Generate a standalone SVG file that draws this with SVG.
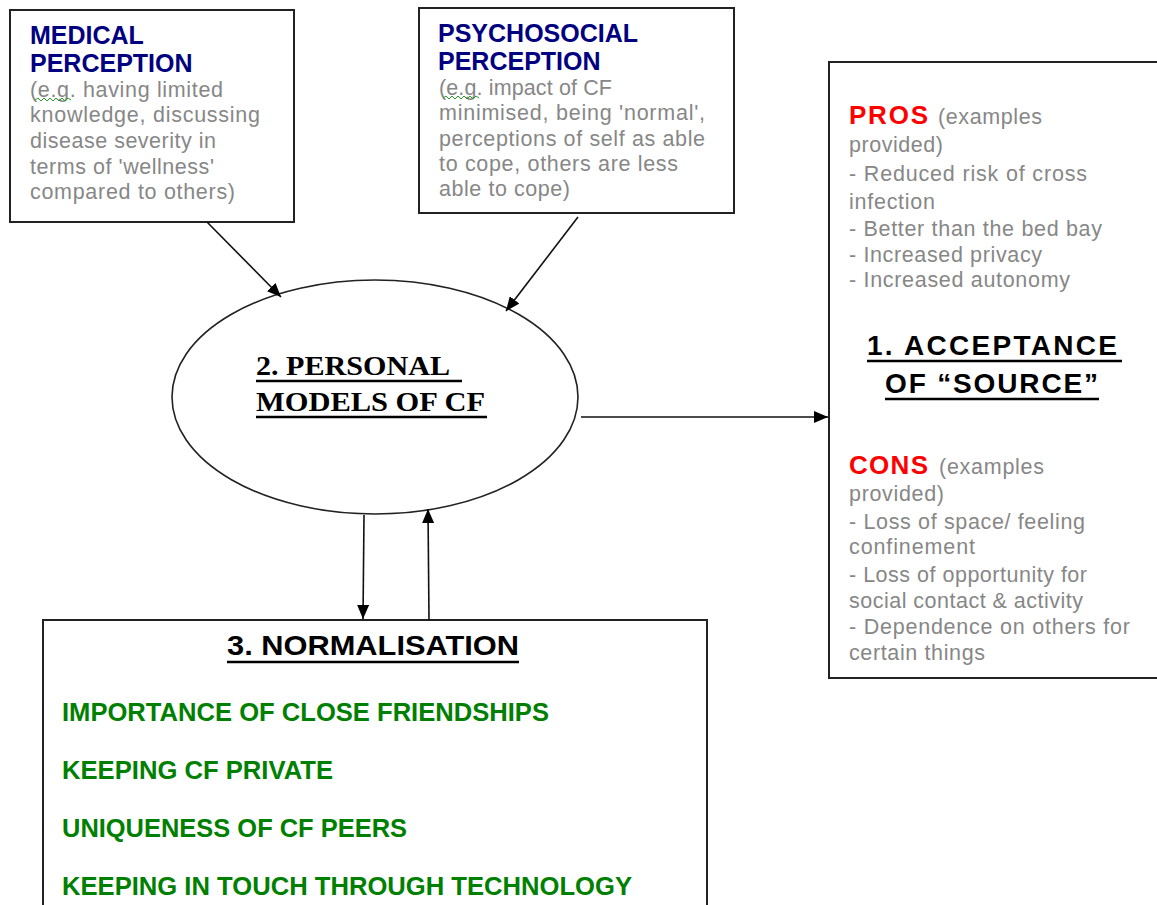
<svg xmlns="http://www.w3.org/2000/svg" width="1157" height="905" viewBox="0 0 1157 905">
<style>
.box{fill:#fff;stroke:#222;stroke-width:2}
.title{font-family:"Liberation Sans",Arial,sans-serif;font-weight:bold;font-size:25px;fill:#000080}
.gray{font-family:"Liberation Sans",Arial,sans-serif;font-size:21.5px;fill:#878787}
.red{font-family:"Liberation Sans",Arial,sans-serif;font-weight:bold;font-size:26px;fill:#ff0000}
.head{font-family:"Liberation Sans",Arial,sans-serif;font-weight:bold;font-size:28px;fill:#000}
.green{font-family:"Liberation Sans",Arial,sans-serif;font-weight:bold;font-size:26px;fill:#008000}
.serif{font-family:"Liberation Serif","Times New Roman",serif;font-weight:bold;font-size:28px;fill:#000}
.ul{stroke:#000;stroke-width:2.5}
.conn{stroke:#111;stroke-width:1.6;fill:none;marker-end:url(#ah)}
.squig{stroke:#2a9a2a;stroke-width:1;fill:none}
</style>
<defs>
<marker id="ah" markerUnits="userSpaceOnUse" markerWidth="14" markerHeight="12" refX="14" refY="6" orient="auto">
<path d="M0,0 L14,6 L0,12 z" fill="#000"/>
</marker>
</defs>
<rect width="1157" height="905" fill="#fff"/>

<g id="medical">
<rect class="box" x="10" y="10" width="284" height="212"/>
<text class="title" x="30" y="44">MEDICAL</text>
<text class="title" x="30" y="72">PERCEPTION</text>
<text class="gray" x="30" y="97" textLength="193">(e.g. having limited</text>
<text class="gray" x="30" y="122" textLength="230">knowledge, discussing</text>
<text class="gray" x="30" y="148" textLength="186">disease severity in</text>
<text class="gray" x="30" y="174" textLength="184">terms of 'wellness'</text>
<text class="gray" x="30" y="199" textLength="205">compared to others)</text>
<polyline class="squig" points="35,100 38,98 41,101 44,98 47,101 50,98 53,101 56,98 59,101 62,98 65,101 68,98 71,100"/>
</g>

<g id="psychosocial">
<rect class="box" x="419" y="8" width="315" height="205"/>
<text class="title" x="438" y="42">PSYCHOSOCIAL</text>
<text class="title" x="438" y="70">PERCEPTION</text>
<text class="gray" x="439" y="95" textLength="173">(e.g. impact of CF</text>
<text class="gray" x="439" y="120" textLength="266">minimised, being 'normal',</text>
<text class="gray" x="439" y="146" textLength="266">perceptions of self as able</text>
<text class="gray" x="439" y="171" textLength="239">to cope, others are less</text>
<text class="gray" x="439" y="196" textLength="131">able to cope)</text>
<polyline class="squig" points="443,98 446,96 449,99 452,96 455,99 458,96 461,99 464,96 467,99 470,96 473,99 476,96 479,98"/>
</g>

<g id="acceptance">
<rect class="box" x="829" y="62" width="330" height="616"/>
<text class="red" x="849" y="124" textLength="79">PROS</text>
<text class="gray" x="938" y="124" textLength="104">(examples</text>
<text class="gray" x="849" y="152" textLength="94">provided)</text>
<text class="gray" x="849" y="181" textLength="238">- Reduced risk of cross</text>
<text class="gray" x="849" y="209" textLength="86">infection</text>
<text class="gray" x="849" y="236" textLength="253">- Better than the bed bay</text>
<text class="gray" x="849" y="262" textLength="193">- Increased privacy</text>
<text class="gray" x="849" y="287" textLength="221">- Increased autonomy</text>
<text class="head" x="867" y="355" textLength="250">1. ACCEPTANCE</text>
<line class="ul" x1="867" y1="361" x2="1122" y2="361"/>
<text class="head" x="885" y="393" textLength="213">OF “SOURCE”</text>
<line class="ul" x1="885" y1="399" x2="1099" y2="399"/>
<text class="red" x="849" y="474" textLength="79">CONS</text>
<text class="gray" x="939" y="474" textLength="105">(examples</text>
<text class="gray" x="849" y="501" textLength="95">provided)</text>
<text class="gray" x="849" y="529" textLength="236">- Loss of space/ feeling</text>
<text class="gray" x="849" y="554" textLength="126">confinement</text>
<text class="gray" x="849" y="582" textLength="238">- Loss of opportunity for</text>
<text class="gray" x="849" y="608" textLength="234">social contact &amp; activity</text>
<text class="gray" x="849" y="634" textLength="281">- Dependence on others for</text>
<text class="gray" x="849" y="660" textLength="136">certain things</text>
</g>

<g id="personal-models">
<ellipse cx="375" cy="397" rx="203" ry="117" fill="#fff" stroke="#222" stroke-width="1.6"/>
<text class="serif" x="256" y="375" textLength="194" lengthAdjust="spacingAndGlyphs">2. PERSONAL</text>
<line class="ul" x1="256" y1="381" x2="462" y2="381"/>
<text class="serif" x="256" y="411" textLength="229" lengthAdjust="spacingAndGlyphs">MODELS OF CF</text>
<line class="ul" x1="256" y1="417" x2="487" y2="417"/>
</g>

<g id="normalisation">
<rect class="box" x="43" y="620" width="664" height="300"/>
<text class="head" x="227" y="655" textLength="292" lengthAdjust="spacingAndGlyphs">3. NORMALISATION</text>
<line class="ul" x1="227" y1="662" x2="519" y2="662"/>
<text class="green" x="62" y="721" textLength="487" lengthAdjust="spacingAndGlyphs">IMPORTANCE OF CLOSE FRIENDSHIPS</text>
<text class="green" x="62" y="779" textLength="271" lengthAdjust="spacingAndGlyphs">KEEPING CF PRIVATE</text>
<text class="green" x="62" y="837" textLength="345" lengthAdjust="spacingAndGlyphs">UNIQUENESS OF CF PEERS</text>
<text class="green" x="62" y="895" textLength="570" lengthAdjust="spacingAndGlyphs">KEEPING IN TOUCH THROUGH TECHNOLOGY</text>
</g>

<g id="connectors">
<line class="conn" x1="207" y1="222" x2="281" y2="297"/>
<line class="conn" x1="578" y1="217" x2="506" y2="311"/>
<line class="conn" x1="581" y1="417" x2="828" y2="417"/>
<line class="conn" x1="364" y1="515" x2="363" y2="619"/>
<line class="conn" x1="429" y1="620" x2="428" y2="509"/>
</g>
</svg>
